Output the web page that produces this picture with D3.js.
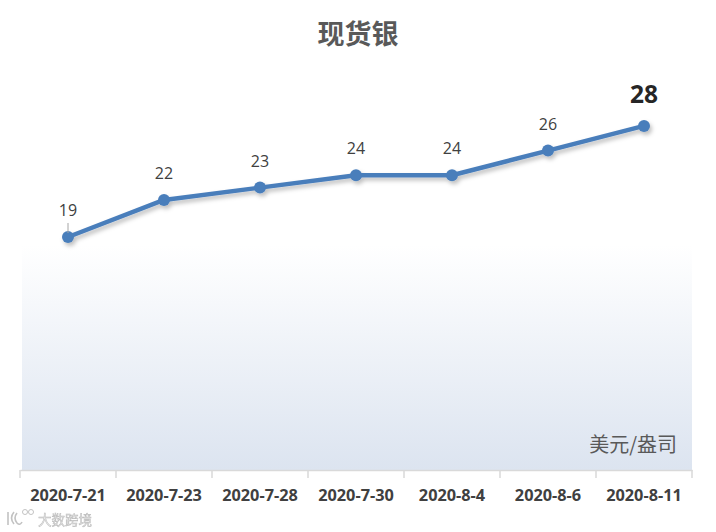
<!DOCTYPE html>
<html><head><meta charset="utf-8">
<script src="https://cdn.jsdelivr.net/npm/d3@7"></script>
<style>body{margin:0;background:#fff}svg{display:block}</style>
</head><body>
<svg id="c" width="716" height="532"></svg>
<script>
const categories = ["2020-7-21","2020-7-23","2020-7-28","2020-7-30","2020-8-4","2020-8-6","2020-8-11"];
const values = [19, 22, 23, 24, 24, 26, 28];
const labels = ["19","22","23","24","24","26","28"];
const title = "现货银";
const unit = "美元/盎司";
const watermark = "大数跨境";

(function(){
const svg = d3.select("#c");
const pLeft = 20, pRight = 692, pBottom = 470;
const x = d3.scaleBand().domain(categories).range([pLeft, pRight]);
const y = d3.scaleLinear().domain([0, 35]).range([471.5, 39.5]);
const font = "'Open Sans','Noto Sans CJK SC','DejaVu Sans',sans-serif";

const defs = svg.append("defs");
const g = defs.append("linearGradient").attr("id","bg").attr("x1",0).attr("y1",0).attr("x2",0).attr("y2",1);
g.append("stop").attr("offset","0%").attr("stop-color","#ffffff");
g.append("stop").attr("offset","100%").attr("stop-color","#dce4f0");
const f = defs.append("filter").attr("id","sh").attr("x","-10%").attr("y","-10%").attr("width","120%").attr("height","140%");
f.append("feDropShadow").attr("dx",2).attr("dy",3).attr("stdDeviation",2).attr("flood-color","#000").attr("flood-opacity",0.25);

svg.append("rect").attr("x", pLeft + 2).attr("y", 245).attr("width", pRight - pLeft - 2).attr("height", pBottom - 245).attr("fill","url(#bg)");

svg.append("text").attr("x", 358).attr("y", 44).attr("text-anchor","middle")
  .attr("font-family", "'Noto Sans CJK SC',sans-serif").attr("font-weight","bold").attr("font-size", 27)
  .attr("fill","#595959").text(title);

const xAxis = d3.axisBottom(x).tickSize(0).tickPadding(0);
const ax = svg.append("g").attr("transform", `translate(0,${pBottom})`).call(xAxis);
ax.select(".domain").attr("stroke","#d9d9d9").attr("stroke-width",1.5);
ax.selectAll(".tick text").attr("y", 19).attr("dy", "0.71em").attr("font-family", font).attr("font-weight","bold")
  .attr("font-size", 16.3).attr("fill","#404040");
const bounds = categories.map(c => x(c)).concat([pRight]);
svg.append("g").selectAll("line").data(bounds).join("line")
  .attr("x1", d => d).attr("x2", d => d).attr("y1", pBottom).attr("y2", pBottom + 8)
  .attr("stroke","#d9d9d9").attr("stroke-width",1.5);

svg.append("text").attr("x", 677).attr("y", 452).attr("text-anchor","end")
  .attr("font-family", "'Noto Sans CJK SC',sans-serif").attr("font-size", 20).attr("fill","#595959").text(unit);

const cx = d => x(d) + x.bandwidth() / 2;
const line = d3.line().x((d, i) => cx(categories[i])).y(d => y(d));
const lg = svg.append("g").attr("filter","url(#sh)");
lg.append("path").datum(values).attr("d", line).attr("fill","none")
  .attr("stroke","#4a7ebb").attr("stroke-width",4.5).attr("stroke-linejoin","round");
lg.selectAll("circle").data(values).join("circle")
  .attr("cx", (d, i) => cx(categories[i])).attr("cy", d => y(d)).attr("r", 6).attr("fill","#4a7ebb");

svg.append("line").attr("x1", cx(categories[0])).attr("x2", cx(categories[0]))
  .attr("y1", y(values[0]) - 14).attr("y2", y(values[0]) - 4).attr("stroke","#a6a6a6").attr("stroke-width",1);

svg.append("g").selectAll("text").data(values).join("text")
  .attr("x", (d, i) => cx(categories[i]))
  .attr("y", (d, i) => i === values.length - 1 ? y(d) - 23 : y(d) - 21)
  .attr("text-anchor","middle").attr("font-family", font)
  .attr("font-size", (d, i) => i === values.length - 1 ? 24.5 : 16)
  .attr("font-weight", (d, i) => i === values.length - 1 ? "bold" : "normal")
  .attr("fill", (d, i) => i === values.length - 1 ? "#262626" : "#404040")
  .text((d, i) => labels[i]);

// watermark logo (shapes) + text
const wm = svg.append("g").attr("opacity", 0.6);
wm.append("path").attr("d", "M8,512 L8,525 M14,512 Q9,518 14,524 M17,513 Q13,518 17,523 Q20,526 22,522")
  .attr("fill","none").attr("stroke","#9a9a9a").attr("stroke-width",1.6);
wm.append("circle").attr("cx", 25).attr("cy", 512).attr("r", 2.5).attr("fill","none").attr("stroke","#9a9a9a");
wm.append("circle").attr("cx", 31).attr("cy", 512).attr("r", 2.5).attr("fill","none").attr("stroke","#9a9a9a");
wm.append("text").attr("x", 38).attr("y", 525).attr("font-family", "'Noto Sans CJK SC',sans-serif")
  .attr("font-size", 13.5).attr("fill","#d9d9d9").attr("stroke","#8a8a8a").attr("stroke-width",0.5).text(watermark);
})();
</script>
</body></html>
